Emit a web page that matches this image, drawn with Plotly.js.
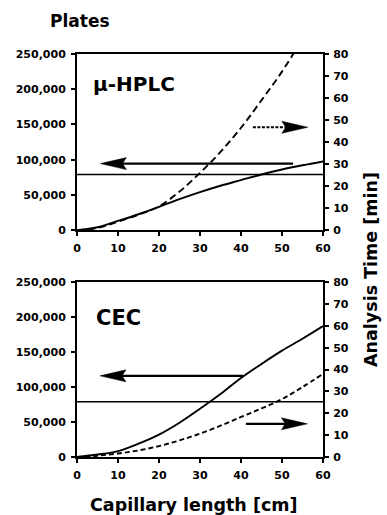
<!DOCTYPE html>
<html><head><meta charset="utf-8">
<script src="https://cdn.plot.ly/plotly-3.0.1.min.js"></script>
<style>html,body{margin:0;padding:0;background:#fff}</style>
</head><body><div id="chart" style="width:387px;height:515px"></div>
<script>
// ---- data ----
const lengthCm   = [0, 5, 10, 15, 20, 25, 30, 35, 40, 45, 50, 55, 60];
const hplcPlates = [0, 4000, 13000, 22500, 33000, 44000, 54000, 63000, 71000, 79000, 86000, 92000, 97500];
const hplcTime   = [0, 1.0, 3.8, 7.0, 10.8, 17.5, 26, 35.5, 46.5, 59, 72, 87, null];
const cecPlates  = [0, 3500, 8500, 19000, 32000, 49000, 69000, 90000, 113000, 133000, 152000, 169000, 187000];
const cecTime    = [0, 0.6, 1.6, 3.0, 5.0, 7.6, 10.7, 14.3, 18.3, 22.2, 26.5, 32.0, 38.0];
const targetPlates = 79000;
const targetX = [0, 60];
const plateTicks = [0, 50000, 100000, 150000, 200000, 250000];
const panelNames = ['\u03bc-HPLC', 'CEC'];

// ---- layout constants ----
const W = 387, H = 515, L = 77, R = 64, T = 54, B = 58;
const plotW = W - L - R, plotH = H - T - B;
const topDom = [0.563, 1], botDom = [0, 0.434];
const FAM = 'DejaVu Sans';
const tf = {family: FAM, size: 11, weight: 'bold', color: '#000'};

const axBase = {
  showline: true, linewidth: 2, linecolor: '#000',
  ticks: 'outside', ticklen: 4, tickwidth: 2, tickcolor: '#000',
  showgrid: false, zeroline: false, tickfont: tf, fixedrange: true
};
const xAx = (anchor) => Object.assign({}, axBase, {range: [0, 60], dtick: 10, anchor: anchor, mirror: true, ticklabelstandoff: 3});
const yLeft = (dom, anchor) => Object.assign({}, axBase, {range: [0, 250000], tickvals: plateTicks, tickformat: ',d', domain: dom, anchor: anchor, ticklabelstandoff: 3});
const yRight = (over, anchor) => Object.assign({}, axBase, {range: [0, 80], dtick: 10, overlaying: over, side: 'right', anchor: anchor, ticklabelstandoff: 2});

const solid = {color: '#000', width: 1.9, shape: 'spline'};
const dashed = {color: '#000', width: 1.9, dash: '7px,4px', shape: 'spline'};
const dashed2 = {color: '#000', width: 1.9, dash: '5px,3px', shape: 'spline'};

const traces = [
  {x: lengthCm, y: hplcPlates, xaxis: 'x2', yaxis: 'y3', mode: 'lines', line: solid},
  {x: lengthCm, y: hplcTime, xaxis: 'x2', yaxis: 'y4', mode: 'lines', line: dashed},
  {x: targetX, y: [targetPlates, targetPlates], xaxis: 'x2', yaxis: 'y3', mode: 'lines', line: {color: '#000', width: 1.5}},
  {x: lengthCm, y: cecPlates, xaxis: 'x', yaxis: 'y', mode: 'lines', line: solid},
  {x: lengthCm, y: cecTime, xaxis: 'x', yaxis: 'y2', mode: 'lines', line: dashed2},
  {x: targetX, y: [targetPlates, targetPlates], xaxis: 'x', yaxis: 'y', mode: 'lines', line: {color: '#000', width: 1.5}}
];

// arrow = shaft line + filled head, sizes given in pixels
function arrow(xref, yref, dom, tipX, tailX, yVal, dash) {
  const ux = 60 / plotW;
  const uy = 250000 / (plotH * (dom[1] - dom[0]));
  const dir = Math.sign(tailX - tipX);
  const Lh = 26, Hh = 6;
  const backX = tipX + dir * Lh * ux;
  const notchX = tipX + dir * Lh * 0.85 * ux;
  return [
    {type: 'line', xref: xref, yref: yref, x0: tailX, x1: notchX, y0: yVal, y1: yVal,
     line: {color: '#000', width: 2.2, dash: dash || 'solid'}},
    {type: 'path', xref: xref, yref: yref,
     path: `M${tipX},${yVal} L${backX},${yVal + Hh * uy} L${notchX},${yVal} L${backX},${yVal - Hh * uy} Z`,
     fillcolor: '#000', line: {color: '#000', width: 0.5}}
  ];
}
const shapes = [].concat(
  arrow('x2', 'y3', topDom, 5.7, 52.7, 94400),
  arrow('x2', 'y3', topDom, 56.3, 42.9, 146000, '3px,1.5px'),
  arrow('x', 'y', botDom, 5.6, 40.5, 116000),
  arrow('x', 'y', botDom, 56.2, 41.2, 47400)
);

const annotations = [
  {text: 'Plates', xref: 'paper', yref: 'paper', x: (80 - L) / plotW, y: (H - B - 21) / plotH,
   xanchor: 'center', yanchor: 'middle', showarrow: false, font: {family: FAM, size: 17, weight: 'bold', color: '#000'}},
  {text: 'Analysis Time [min]', xref: 'paper', yref: 'paper', x: (371 - L) / plotW, y: (H - B - 270) / plotH,
   xanchor: 'center', yanchor: 'middle', textangle: -90, showarrow: false, font: {family: FAM, size: 17.5, weight: 'bold', color: '#000'}},
  {text: 'Capillary length [cm]', xref: 'paper', yref: 'paper', x: (194 - L) / plotW, y: (H - B - 505) / plotH,
   xanchor: 'center', yanchor: 'middle', showarrow: false, font: {family: FAM, size: 17.5, weight: 'bold', color: '#000'}},
  {text: panelNames[0], xref: 'x2', yref: 'y3', x: 3.4, y: 207000, xanchor: 'left', yanchor: 'middle',
   showarrow: false, font: {family: FAM, size: 20, weight: 'bold', color: '#000'}},
  {text: panelNames[1], xref: 'x', yref: 'y', x: 4.1, y: 199000, xanchor: 'left', yanchor: 'middle',
   showarrow: false, font: {family: FAM, size: 21, weight: 'bold', color: '#000'}}
];

const layout = {
  width: W, height: H, margin: {l: L, r: R, t: T, b: B},
  paper_bgcolor: '#fff', plot_bgcolor: '#fff', showlegend: false,
  font: tf,
  xaxis: xAx('y'), yaxis: yLeft(botDom, 'x'), yaxis2: yRight('y', 'x'),
  xaxis2: xAx('y3'), yaxis3: yLeft(topDom, 'x2'), yaxis4: yRight('y3', 'x2'),
  shapes: shapes, annotations: annotations
};
Plotly.newPlot('chart', traces, layout, {staticPlot: true, displayModeBar: false});
</script></body></html>
